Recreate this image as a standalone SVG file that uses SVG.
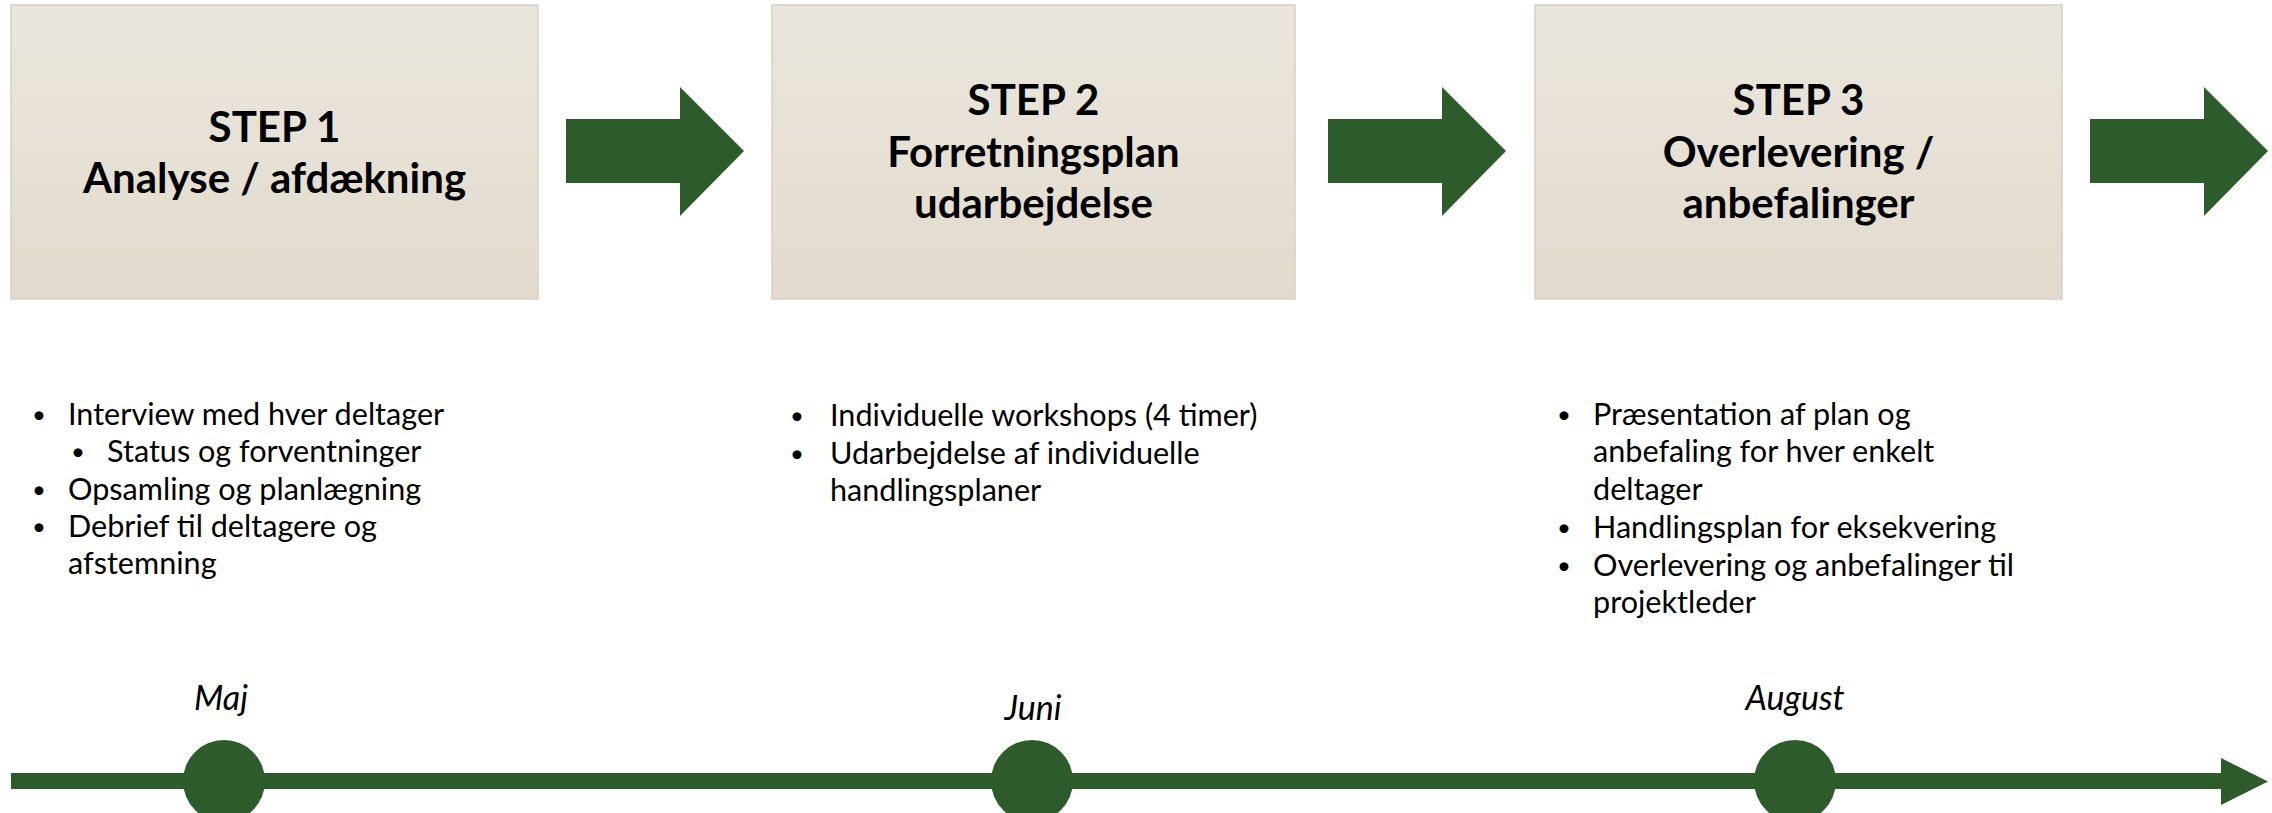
<svg xmlns="http://www.w3.org/2000/svg" width="2272" height="813" viewBox="0 0 2272 813">
<defs>
<linearGradient id="boxg" x1="0" y1="0" x2="0" y2="1">
<stop offset="0" stop-color="#EBE7DE"/>
<stop offset="1" stop-color="#E2DACD"/>
</linearGradient>
<style>
.box{fill:url(#boxg);stroke:#D8D0C3;stroke-width:1.5}
.title{font-family:Lato,"Liberation Sans",sans-serif;font-weight:bold;font-size:42px;fill:#000;text-anchor:middle}
.bul{font-family:Lato,"Liberation Sans",sans-serif;font-size:30.6px;fill:#000}
.dot{font-size:24px}
.mon{font-family:Lato,"Liberation Sans",sans-serif;font-style:italic;font-size:34px;fill:#000;text-anchor:middle}
.grn{fill:#2D5B2B}
</style>
</defs>
<rect width="2272" height="813" fill="#fff"/>
<g id="step1">
<rect class="box" x="11" y="5" width="527" height="294"/>
<text class="title" x="274.5" y="142">STEP 1</text>
<text class="title" x="274.5" y="193">Analyse / afdækning</text>
</g>
<g id="step2">
<rect class="box" x="772" y="5" width="523" height="294"/>
<text class="title" x="1033.5" y="115">STEP 2</text>
<text class="title" x="1033.5" y="166.5">Forretningsplan</text>
<text class="title" x="1033.5" y="218">udarbejdelse</text>
</g>
<g id="step3">
<rect class="box" x="1535" y="5" width="527" height="294"/>
<text class="title" x="1798.5" y="115">STEP 3</text>
<text class="title" x="1798.5" y="166.5">Overlevering /</text>
<text class="title" x="1798.5" y="218">anbefalinger</text>
</g>
<g id="list1" class="bul">
<text class="dot" x="32" y="423">•</text><text x="68" y="425">Interview med hver deltager</text>
<text class="dot" x="71" y="460">•</text><text x="107" y="462">Status og forventninger</text>
<text class="dot" x="32" y="498">•</text><text x="68" y="500">Opsamling og planlægning</text>
<text class="dot" x="32" y="535">•</text><text x="68" y="537">Debrief til deltagere og</text>
<text x="68" y="574">afstemning</text>
</g>
<g id="list2" class="bul">
<text class="dot" x="790" y="424">•</text><text x="830" y="426">Individuelle workshops (4 timer)</text>
<text class="dot" x="790" y="462">•</text><text x="830" y="464">Udarbejdelse af individuelle</text>
<text x="830" y="501">handlingsplaner</text>
</g>
<g id="list3" class="bul">
<text class="dot" x="1557" y="423">•</text><text x="1593" y="425">Præsentation af plan og</text>
<text x="1593" y="462">anbefaling for hver enkelt</text>
<text x="1593" y="500">deltager</text>
<text class="dot" x="1557" y="536">•</text><text x="1593" y="538">Handlingsplan for eksekvering</text>
<text class="dot" x="1557" y="574">•</text><text x="1593" y="576">Overlevering og anbefalinger til</text>
<text x="1593" y="613">projektleder</text>
</g>
<g id="connectors">
<polygon class="grn" points="566,119 680,119 680,87 744,151 680,216 680,183 566,183"/>
<polygon class="grn" points="1328,119 1442,119 1442,87 1506,151 1442,216 1442,183 1328,183"/>
<polygon class="grn" points="2090,119 2204,119 2204,87 2268,151 2204,216 2204,183 2090,183"/>
<polygon class="grn" points="11,773 2221,773 2221,758 2268,781.5 2221,805 2221,789 11,789"/>
</g>
<g id="milestone-maj">
<ellipse class="grn" cx="224" cy="781" rx="41" ry="41"/>
<text class="mon" x="221" y="710">Maj</text>
</g>
<g id="milestone-juni">
<ellipse class="grn" cx="1032" cy="781" rx="41" ry="41"/>
<text class="mon" x="1033" y="720">Juni</text>
</g>
<g id="milestone-august">
<ellipse class="grn" cx="1795" cy="781" rx="41" ry="41"/>
<text class="mon" x="1795" y="710">August</text>
</g>
</svg>
